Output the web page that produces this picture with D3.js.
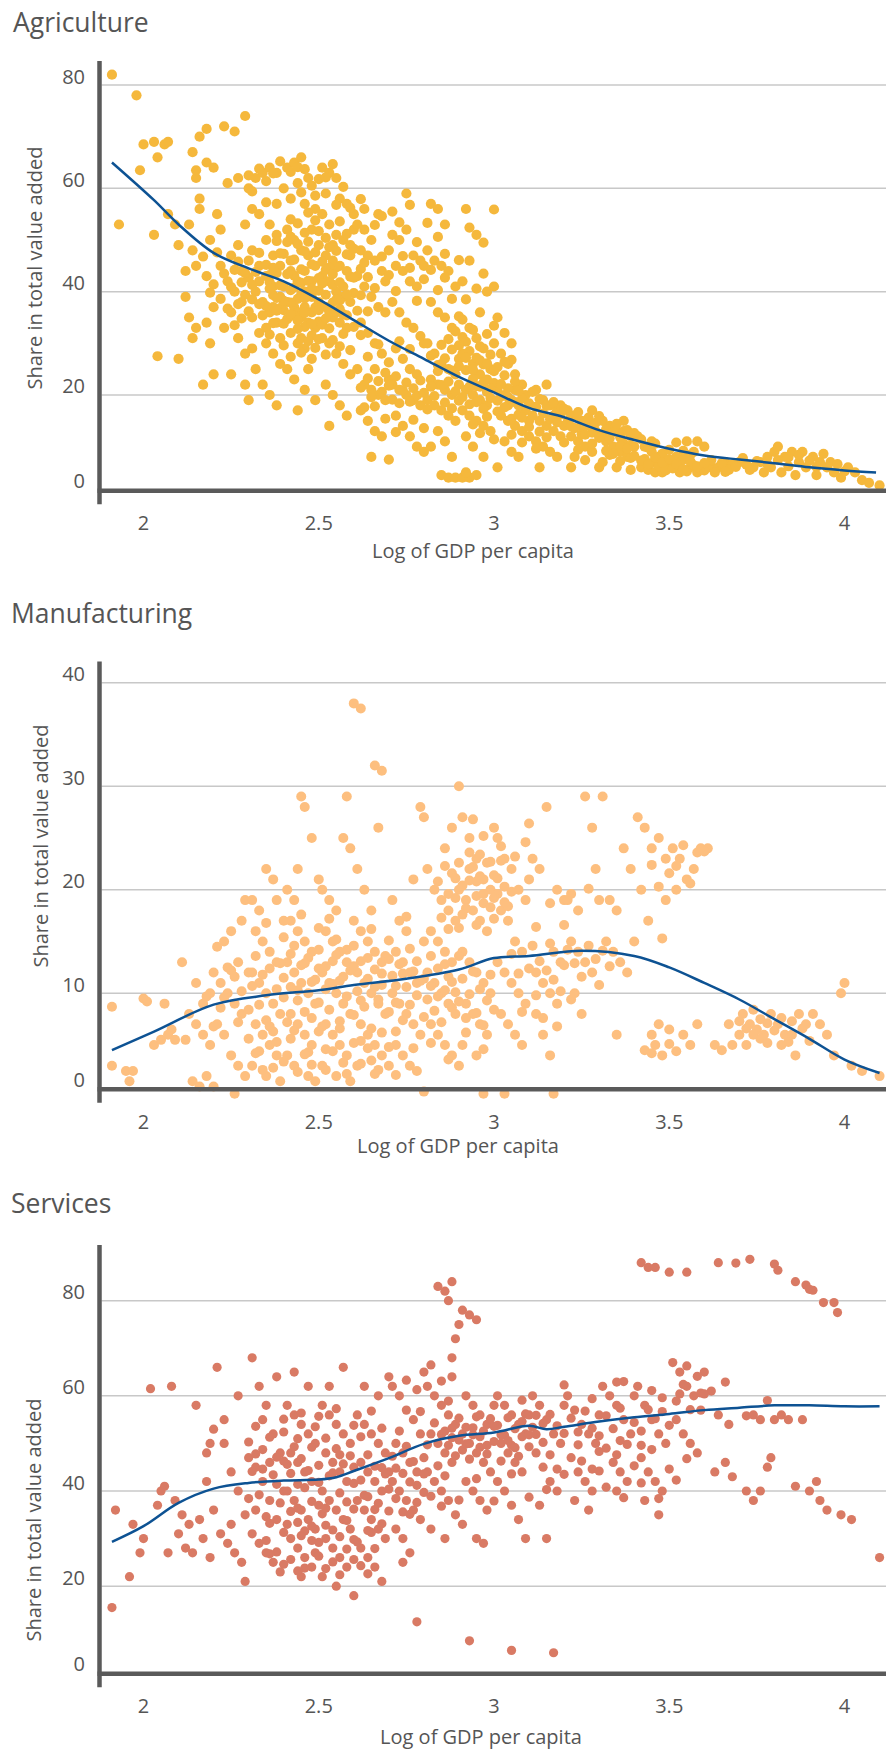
<!DOCTYPE html>
<html><head><meta charset="utf-8">
<script src="https://cdn.jsdelivr.net/npm/d3@7"></script>
<style>
html,body{margin:0;padding:0;background:#fff;}
svg{display:block;font-family:"Open Sans","Noto Sans",sans-serif;}
</style></head>
<body>
<svg id="chart" width="886" height="1751"></svg>
<script>
// ---------- DATA ----------
const xTicks = [2, 2.5, 3, 3.5, 4];
const xLabel = "Log of GDP per capita";
const yLabel = "Share in total value added";
const titles = ["Agriculture", "Manufacturing", "Services"];
const agriTicks = [0, 20, 40, 60, 80];
const manuTicks = [0, 10, 20, 30, 40];
const servTicks = [0, 20, 40, 60, 80];

const agriPoints = [
[1.91,82],[1.98,78],[1.93,53],[1.99,63.5],[2.0,68.5],
[2.03,69],[2.06,68.5],[2.04,66],[2.07,69],[2.03,51],[2.07,55],[2.04,27.5],[2.1,27],[2.1,49],[2.09,53],
[2.14,67],[2.16,70],[2.18,71.5],[2.15,62],[2.15,63.5],[2.18,65],[2.16,58],[2.16,56],[2.13,53],[2.14,48],[2.12,44],[2.15,45],[2.12,39],[2.13,35],[2.15,33],[2.18,34],[2.14,31],[2.19,30],[2.2,37],[2.18,43],[2.21,55],[2.2,24],[2.17,22],[2.19,50],[2.2,64],
[2.23,72],[2.26,71],[2.29,74],[2.24,61],[2.27,62],[2.3,60],[2.22,45],[2.24,42],[2.26,40],[2.28,38],[2.25,36],[2.23,33],[2.27,31],[2.29,28],[2.25,24],[2.29,22],[2.3,19],[2.28,44],[2.3,46],[2.27,49],[2.22,52],[2.29,53],[2.25,47],
[2.32,62],[2.34,63],[2.36,64],[2.38,63],[2.31,56],[2.33,55],[2.36,53],[2.38,51],[2.31,48],[2.33,45],[2.35,43],[2.37,41],[2.39,39],[2.32,40],[2.34,38],[2.36,36],[2.38,34],[2.31,35],[2.33,32],[2.35,30],[2.37,28],[2.39,26],[2.32,25],[2.34,22],[2.36,20],[2.38,18],[2.39,45],[2.37,47],[2.35,50],[2.33,42],[2.31,29],[2.38,57],[2.4,60],[2.35,33],[2.37,37],[2.39,31],
[2.41,64],[2.43,65],[2.45,66],[2.44,61],[2.47,62],[2.42,58],[2.46,57],[2.49,56],[2.41,52],[2.43,50],[2.45,48],[2.47,47],[2.49,45],[2.42,44],[2.44,42],[2.46,40],[2.48,39],[2.41,38],[2.43,37],[2.45,35],[2.47,34],[2.49,33],[2.42,32],[2.44,30],[2.46,29],[2.48,27],[2.41,25],[2.43,23],[2.46,21],[2.49,19],[2.44,17],[2.42,46],[2.46,44],[2.48,42],[2.44,36],[2.46,37],[2.48,36],[2.5,38],[2.5,49],[2.4,41],[2.42,54],[2.48,52],[2.45,31],[2.47,25],
[2.51,64],[2.53,63],[2.55,62],[2.52,59],[2.56,58],[2.58,57],[2.51,55],[2.53,53],[2.55,51],[2.57,50],[2.59,49],[2.52,47],[2.54,46],[2.56,45],[2.58,44],[2.51,43],[2.53,42],[2.55,40],[2.57,39],[2.59,38],[2.52,37],[2.54,35],[2.56,34],[2.58,33],[2.51,31],[2.53,30],[2.55,28],[2.57,26],[2.59,24],[2.52,22],[2.54,20],[2.56,18],[2.58,16],[2.53,14],[2.55,36],[2.57,41],[2.59,47],[2.6,52],[2.6,55],[2.54,49],
[2.61,53],[2.63,52],[2.65,50],[2.62,48],[2.64,47],[2.66,46],[2.68,44],[2.61,43],[2.63,41],[2.65,39],[2.67,37],[2.69,36],[2.62,34],[2.64,32],[2.66,30],[2.68,28],[2.61,25],[2.63,22],[2.65,21],[2.67,20],[2.69,19],[2.62,17],[2.64,15],[2.66,13],[2.68,12],[2.65,8],[2.7,7.5],[2.63,56],[2.67,55],[2.7,48],[2.69,42],[2.66,25],[2.7,23],
[2.71,51],[2.73,50],[2.75,52],[2.77,47],[2.72,45],[2.74,44],[2.76,42],[2.78,41],[2.71,38],[2.73,36],[2.75,34],[2.77,33],[2.72,29],[2.74,27],[2.76,25],[2.78,24],[2.71,22],[2.73,21],[2.75,20],[2.77,19],[2.79,18],[2.72,16],[2.74,14],[2.76,12],[2.78,10],[2.8,9],[2.75,59],[2.79,46],[2.8,45],[2.8,30],
[2.82,57],[2.84,56],[2.86,53],[2.81,48],[2.83,46],[2.85,45],[2.87,44],[2.89,41],[2.82,38],[2.84,36],[2.86,35],[2.88,33],[2.81,30],[2.83,28],[2.85,26],[2.87,25],[2.89,24],[2.82,23],[2.84,22],[2.86,21],[2.88,20],[2.81,19],[2.83,18],[2.85,17],[2.87,16],[2.89,15],[2.84,13],[2.86,11],[2.88,8],[2.85,4.5],[2.87,4],[2.89,4],[2.82,10],[2.9,27],[2.9,22],
[2.92,56],[2.95,51],[2.93,46],[2.91,42],[2.96,36],[2.93,33],[2.95,31],[2.97,29],[2.91,28],[2.94,26],[2.96,24],[2.98,23],[2.92,21],[2.94,20],[2.96,19],[2.98,18],[2.91,17],[2.93,16],[2.95,15],[2.97,14],[2.99,13],[2.92,12],[2.94,10],[2.97,8],[2.91,4],[2.93,4],[2.95,4.5],[2.92,5],[3.0,30],[2.99,25],[2.98,40],
[3.0,41],[3.01,35],[3.03,32],[3.05,30],[3.02,28],[3.04,26],[3.06,24],[3.08,22],[3.01,21],[3.03,20],[3.05,19],[3.07,18],[3.09,17],[3.02,16],[3.04,15],[3.06,14],[3.08,13],[3.1,12],[3.03,11],[3.05,9],[3.07,8],[3.01,6],[3.04,18],[3.06,21],[3.09,20],[3.1,15],
[3.12,21],[3.14,19],[3.16,18],[3.18,17],[3.11,16],[3.13,15],[3.15,14],[3.17,13],[3.19,12],[3.12,11],[3.14,10],[3.16,9],[3.18,8],[3.13,6],[3.2,14],[3.15,22],[3.17,16],[3.19,18],
[3.21,17],[3.23,16],[3.25,15],[3.27,14],[3.29,13],[3.22,12],[3.24,11],[3.26,10],[3.28,9],[3.23,8],[3.25,14],[3.3,6],[3.28,17],[3.22,6],
[3.31,15],[3.33,14],[3.35,13],[3.37,13],[3.39,12],[3.32,11],[3.34,10],[3.36,9],[3.38,8],[3.31,7],[3.35,6],[3.39,5.5],[3.37,15],[3.4,10],
[3.41,12],[3.43,10],[3.45,9],[3.47,8],[3.49,7],[3.42,6],[3.44,5.5],[3.46,5],[3.48,5],[3.5,6],[3.45,11],
[3.52,8],[3.54,7.5],[3.56,6],[3.58,5],[3.53,5],[3.55,11],[3.58,11],[3.6,10],[3.57,9],
[3.62,6],[3.64,6],[3.66,7],[3.68,6.5],[3.7,7],[3.63,5],[3.67,5.5],
[3.72,6.5],[3.74,6],[3.76,7],[3.78,8],[3.8,9],[3.73,5.5],[3.77,5],[3.79,6],
[3.81,10],[3.83,8],[3.85,9],[3.87,7],[3.89,6],[3.82,5],[3.86,4.5],[3.88,9],
[3.91,8],[3.93,7],[3.95,6],[3.97,5],[3.99,4],[3.92,4.5],[3.96,7],
[4.01,6],[4.03,5],[4.05,3.5],[4.07,3],[4.1,2.5],
[2.33,47.5],[2.35,45.2],[2.36,41.8],[2.38,43.6],[2.4,36.4],[2.41,34.7],[2.42,40.3],[2.43,43.1],[2.44,38.6],[2.45,41.7],[2.46,33.2],[2.47,39.8],[2.48,31.5],[2.49,36.9],[2.5,34.2],[2.5,42.6],[2.51,45.8],[2.52,39.4],[2.53,36.1],[2.54,41.3],[2.55,44.7],[2.56,38.3],[2.57,35.6],[2.58,47.2],[2.59,42.9],[2.6,39.7],[2.61,36.3],[2.62,44.4],[2.38,49.8],[2.4,47.3],[2.42,50.6],[2.44,53.2],[2.46,51.4],[2.47,55.3],[2.49,53.8],[2.5,51.7],[2.52,50.4],[2.53,48.6],[2.55,47.9],[2.56,53.6],[2.58,51.2],[2.6,48.3],[2.34,35.4],[2.36,31.7],[2.37,33.9],[2.39,36.8],[2.4,29.6],[2.42,27.4],[2.43,35.3],[2.44,32.8],[2.45,28.2],[2.46,35.9],[2.47,30.4],[2.48,33.7],[2.49,29.1],[2.5,30.8],[2.51,33.6],[2.52,27.8],[2.53,32.9],[2.54,30.6],[2.56,29.4],[2.57,31.8],[2.59,28.7],[2.45,39.5],[2.47,42.1],[2.43,40.8],[2.41,43.4],[2.39,41.2],[2.37,39.3],[2.5,40.2],[2.51,37.2],[2.53,44.6],[2.55,38.4],[2.48,45.3],[2.46,47.8],[2.44,49.2],[2.42,37.9],[2.4,38.2],[2.38,38.8],[2.36,40.6],[2.35,37.2],
[2.3,62.5],[2.33,63.8],[2.35,61.4],[2.37,62.9],[2.39,65.2],[2.42,63.2],[2.44,64.1],[2.46,63.7],[2.48,60.5],[2.5,61.8],[2.52,62.1],[2.54,64.7],[2.57,60.3],[2.59,56.2],[2.31,59.4],[2.35,57.3],[2.45,59.2],[2.49,58.6],[2.55,56.8],[2.62,57.9],[2.66,52.9],[2.68,54.6],[2.71,55.5],[2.73,53.4],[2.76,56.8],[2.78,49.6],[2.81,53.3],[2.84,50.6],[2.86,47.3],[2.9,46.1],[2.93,52.4],[2.97,49.5],[3.0,55.9],
[2.62,21.4],[2.64,23.2],[2.65,19.6],[2.66,17.8],[2.67,22.7],[2.68,20.6],[2.69,24.3],[2.7,21.8],[2.71,19.1],[2.72,23.6],[2.73,18.4],[2.74,20.9],[2.75,22.4],[2.76,18.7],[2.77,21.3],[2.78,19.9],[2.79,22.8],[2.8,20.4],[2.81,17.2],[2.82,21.6],[2.83,19.8],[2.84,24.6],[2.85,21.9],[2.86,18.5],[2.87,22.6],[2.88,17.4],[2.89,20.7],[2.9,18.9],[2.63,17.6],[2.69,15.4],[2.72,12.8],[2.77,15.2],[2.8,13.6],[2.64,27.4],[2.67,29.8],[2.7,26.3],[2.73,30.4],[2.76,28.9],[2.79,31.4],[2.82,27.6],[2.85,29.7],[2.88,28.8],
[2.9,25.6],[2.91,31.2],[2.92,24.8],[2.93,28.5],[2.94,23.1],[2.95,27.2],[2.96,21.6],[2.97,25.9],[2.98,20.6],[2.99,27.8],[3.0,22.3],[3.01,25.4],[3.02,19.7],[3.03,23.8],[3.04,21.3],[3.05,26.8],[3.06,18.6],[2.91,19.6],[2.93,18.2],[2.95,21.7],[2.97,17.3],[2.99,19.4],[3.01,16.8],[3.03,17.6],[3.05,15.4],[3.07,16.2],[2.92,30.3],[2.94,32.6],[2.96,29.4],[2.98,31.8],[3.0,33.4],[2.94,14.3],[2.96,12.6],[2.98,15.8],[3.0,11.4],[2.9,35.2],[2.92,38.5],[2.95,40.6],[2.97,43.5],
[3.08,19.3],[3.1,18.4],[3.11,20.6],[3.12,17.7],[3.13,19.2],[3.14,16.4],[3.15,17.9],[3.16,15.3],[3.17,18.6],[3.18,14.7],[3.19,16.2],[3.2,17.3],[3.21,14.8],[3.22,15.9],[3.23,13.6],[3.24,16.7],[3.25,12.4],[3.26,14.2],[3.27,15.6],[3.28,12.7],[3.29,14.6],[3.3,15.9],[3.31,12.4],[3.32,13.4],[3.33,11.6],[3.34,12.8],[3.35,14.4],[3.36,11.8],[3.37,10.6],[3.38,13.2],[3.39,10.2],[3.4,12.6],[3.42,11.4],[3.44,9.8],[3.46,10.6],[3.48,8.6],[3.5,9.4],[3.52,10.8],[3.54,9.2],[3.56,8.4],[3.43,7.6],[3.45,6.8],[3.47,6.2],[3.49,5.4],[3.51,5.8],[3.53,6.7],[3.55,5.2],[3.57,6.4],[3.59,5.6],[3.33,8.4],[3.36,7.2],[3.39,7.8],[3.26,7.4],[3.12,9.6],[3.08,10.8],[3.05,12.3],
[3.62,7.4],[3.65,6.8],[3.69,6.1],[3.71,7.8],[3.75,7.2],[3.78,6.6],[3.81,7.4],[3.84,7.9],[3.84,6.2],[3.87,8.4],[3.9,7.3],[3.92,6.1],[3.94,8.6],[3.98,6.6],[4.0,5.2],[3.66,5.1],[3.6,5.4],
[2.2,41.4],[2.22,38.6],[2.23,43.5],[2.24,36.7],[2.25,40.9],[2.26,44.2],[2.27,37.6],[2.28,41.8],[2.29,39.4],[2.3,42.7],[2.31,38.5],[2.32,43.8],[2.3,36.2],[2.28,34.8],[2.26,33.5],[2.17,46.8],[2.19,39.8],[2.21,47.6],
[2.37,44.6],[2.39,47.4],[2.41,49.6],[2.43,46.2],[2.45,44.3],[2.47,49.7],[2.49,47.6],[2.51,41.6],[2.52,44.2],[2.54,43.4],[2.56,41.8],[2.58,39.5],[2.6,42.7],[2.62,39.3],[2.63,45.6],[2.64,42.8],[2.66,40.7],[2.68,46.8],[2.7,43.2],[2.72,40.1],[2.74,46.9],[2.76,44.6],[2.78,38.2],[2.8,42.4],[2.82,44.2],[2.84,40.3],[2.86,42.7],[2.88,38.6],[2.36,43.2],[2.38,36.3],[2.4,33.8],[2.42,35.6],[2.44,34.4],[2.46,38.7],[2.48,40.6],[2.5,36.4],[2.52,34.8],[2.54,37.9],[2.56,36.6],[2.58,35.4],[2.6,33.2],[2.62,31.6],[2.64,36.2],[2.33,37.6],[2.31,41.3],[2.29,43.6],[2.27,45.8],
[2.93,21.6],[2.94,24.9],[2.95,18.6],[2.96,26.7],[2.97,22.4],[2.98,26.1],[2.99,21.2],[3.0,24.6],[3.01,18.9],[3.02,22.1],[3.03,26.4],[3.04,19.6],[3.06,22.6],[3.07,20.8],[2.92,27.2],[2.9,29.6],[2.88,24.7],[2.86,27.1],[2.84,25.8],[2.87,30.8],[2.89,32.3],[2.91,34.6],
[3.2,10.8],[3.22,13.9],[3.24,9.4],[3.26,12.3],[3.28,10.6],[3.3,11.7],[3.32,9.2],[3.34,8.6],[3.36,10.2],[3.38,9.6],[3.4,8.2],[3.42,7.3],[3.44,6.6],[3.46,7.9],[3.48,6.9],[3.5,7.6],[3.52,6.6],[3.54,5.6],[3.56,7.2],[3.58,6.2],[3.6,6.8],[3.15,11.8],[3.1,13.8],[3.08,15.6],[3.13,12.9]
];
const agriTrend = [[1.91,65],[2.03,57.7],[2.1,53],[2.2,47.5],[2.3,44.5],[2.4,42],[2.5,38.5],[2.6,34.5],[2.7,30.5],[2.8,27],[2.9,23.5],[3.0,20.5],[3.1,17.5],[3.2,15.7],[3.3,13.2],[3.4,11.3],[3.5,9.6],[3.6,8.3],[3.7,7.5],[3.8,6.8],[3.9,6.0],[4.0,5.4],[4.09,5.0]];

const manuPoints = [
[1.91,8.7],[1.91,3],[1.95,2.5],[1.96,1.5],[1.97,2.5],
[2.0,9.5],[2.01,9.2],[2.03,5],[2.05,5.5],[2.07,6],[2.09,5.5],[2.06,9],[2.08,6.5],
[2.11,13],[2.13,8],[2.15,7],[2.17,6],[2.19,5],[2.12,5.5],[2.14,1.5],[2.16,1],[2.18,2],[2.2,1],[2.17,9],[2.19,10],[2.15,11],[2.2,12],
[2.21,14.5],[2.23,15],[2.25,16],[2.27,13],[2.29,19],[2.22,11],[2.24,10],[2.26,9],[2.28,8],[2.21,7],[2.23,6],[2.25,4],[2.27,3],[2.29,2],[2.26,0.3],[2.3,12],[2.28,17],[2.24,12.5],
[2.31,19],[2.33,18],[2.35,22],[2.37,21],[2.32,16],[2.34,15],[2.36,14],[2.38,13],[2.31,12],[2.33,11],[2.35,10],[2.37,9],[2.39,8],[2.32,7],[2.34,6],[2.36,5],[2.38,4],[2.31,3],[2.35,2],[2.39,1.5],[2.4,17],[2.38,19],
[2.41,20],[2.43,19],[2.45,29],[2.46,28],[2.48,25],[2.42,17],[2.44,16],[2.46,15],[2.48,14],[2.41,13],[2.43,12],[2.45,11],[2.47,10],[2.49,9],[2.42,8],[2.44,7],[2.46,6],[2.48,5],[2.41,4],[2.43,3],[2.47,2],[2.49,1.5],[2.5,21],[2.44,22],
[2.51,20],[2.53,19],[2.55,18],[2.57,25],[2.59,24],[2.58,29],[2.52,16],[2.54,15],[2.56,14],[2.58,13],[2.51,12],[2.53,11],[2.55,10],[2.57,9],[2.59,8],[2.52,7],[2.54,6],[2.56,5],[2.58,4],[2.51,3],[2.55,2],[2.59,1.5],[2.6,17],[2.6,38],[2.62,37.5],
[2.61,22],[2.63,20],[2.65,18],[2.67,26],[2.66,32],[2.68,31.5],[2.62,16],[2.64,15],[2.66,14],[2.68,13],[2.61,12],[2.63,11],[2.65,10],[2.67,9],[2.69,8],[2.62,7],[2.64,6],[2.66,5],[2.68,4],[2.61,3],[2.65,3.5],[2.7,3],
[2.71,19],[2.73,17],[2.75,16],[2.77,21],[2.79,28],[2.72,14],[2.74,13],[2.76,12],[2.78,11],[2.71,10],[2.73,9],[2.75,8],[2.77,7],[2.79,6],[2.72,5],[2.74,4],[2.76,3],[2.78,2.5],[2.8,0.5],[2.8,15],[2.8,27],
[2.81,22],[2.83,20],[2.85,19],[2.87,18],[2.89,17],[2.82,16],[2.84,15],[2.86,14],[2.88,13],[2.81,12],[2.83,11],[2.85,10],[2.87,9],[2.89,8],[2.82,7],[2.84,6],[2.86,5],[2.88,4],[2.9,3],[2.86,24],[2.9,30],[2.88,26],[2.9,20],
[2.91,27],[2.93,25],[2.95,23],[2.97,21],[2.99,20],[2.92,19],[2.94,18],[2.96,17],[2.98,16],[2.91,14],[2.93,13],[2.95,12],[2.97,11],[2.99,10],[2.92,9],[2.94,8],[2.96,7],[2.98,6],[2.91,5],[2.95,4],[2.97,0.3],[2.93,22],[3.0,26],
[3.01,25],[3.03,23],[3.05,22],[3.07,20],[3.09,19],[3.02,18],[3.04,17],[3.06,15],[3.08,14],[3.01,13],[3.03,12],[3.05,11],[3.07,10],[3.09,9],[3.02,8],[3.04,7],[3.06,6],[3.08,5],[3.03,0.3],[3.1,21],
[3.11,23],[3.13,22],[3.15,28],[3.17,14],[3.19,13],[3.12,12],[3.14,11],[3.16,10],[3.18,9],[3.12,8],[3.14,6],[3.16,4],[3.17,0.3],[3.2,19],[3.18,20],
[3.21,19],[3.24,18],[3.26,29],[3.28,26],[3.22,15],[3.24,14],[3.26,13],[3.28,12],[3.23,10],[3.25,8],[3.3,19],[3.29,22],
[3.31,29],[3.33,19],[3.35,18],[3.37,24],[3.39,22],[3.32,15],[3.34,14],[3.36,13],[3.38,12],[3.35,6],[3.4,15],
[3.41,27],[3.43,26],[3.45,24],[3.47,25],[3.49,23],[3.42,20],[3.44,17],[3.46,5],[3.48,4],[3.43,4.5],[3.45,6],[3.47,7],[3.5,6.5],[3.49,19],
[3.51,24],[3.53,23],[3.55,21],[3.57,22],[3.59,24],[3.52,20],[3.54,6],[3.56,5],[3.58,7],
[3.61,24],[3.63,5],[3.65,4.5],[3.67,7],[3.7,6],[3.68,5],
[3.71,8],[3.73,7],[3.75,6.5],[3.77,6],[3.79,8],[3.72,5],[3.76,7.5],[3.74,6],
[3.81,7],[3.83,6],[3.85,6],[3.87,8],[3.89,7],[3.82,5],[3.86,4],
[3.91,8],[3.93,7],[3.95,6],[3.97,4],[3.99,10],[4.0,11],
[4.02,3],[4.05,2.5],[4.1,2],
[2.3,8.4],[2.31,10.7],[2.32,13.6],[2.33,8.9],[2.34,11.8],[2.35,7.4],[2.36,12.4],[2.37,6.3],[2.38,10.4],[2.39,12.9],[2.4,9.6],[2.41,7.2],[2.42,10.6],[2.43,14.6],[2.44,9.3],[2.45,12.7],[2.46,8.2],[2.47,13.4],[2.48,7.6],[2.49,11.3],[2.5,14.2],[2.5,9.1],[2.51,6.8],[2.52,12.6],[2.53,8.4],[2.54,10.9],[2.55,13.7],[2.56,7.3],[2.57,11.6],[2.58,9.7],[2.59,12.2],[2.6,7.9],[2.61,10.2],[2.62,13.1],[2.63,8.7],[2.64,11.4],[2.65,6.6],[2.66,12.3],[2.67,9.4],[2.68,10.8],[2.69,13.6],[2.7,8.2],[2.71,11.7],[2.72,9.1],[2.73,12.8],[2.74,7.4],[2.75,10.6],[2.76,8.9],[2.77,12.1],[2.78,9.8],[2.79,11.2],[2.8,7.7],[2.81,9.4],[2.82,10.7],[2.83,8.3],[2.84,12.4],[2.85,7.2],[2.86,10.3],[2.87,11.6],[2.88,8.6],[2.89,10.1],[2.9,9.2],[2.91,11.4],[2.92,7.6],[2.93,9.9],[2.94,12.1],[2.95,8.1],[2.96,10.4],[2.97,6.9],[2.98,9.3],[2.99,11.8],[3.0,8.4],
[2.35,16.8],[2.4,15.4],[2.45,17.6],[2.5,16.3],[2.55,15.2],[2.6,14.6],[2.65,16.2],[2.7,15.1],[2.75,17.4],[2.53,17.2],[2.43,6.4],[2.47,4.3],[2.52,4.6],[2.57,3.3],[2.62,5.4],[2.67,2.6],[2.72,6.3],[2.77,4.7],[2.82,5.2],[2.87,3.6],[2.92,6.2],[2.97,4.6],[2.33,4.4],[2.37,2.8],[2.27,7.2],[2.22,8.6],[2.25,12.2],[2.2,6.8],[2.18,9.7],[2.23,9.6],[2.28,10.2],[2.26,11.6],
[2.84,20.8],[2.86,22.3],[2.87,19.6],[2.88,21.6],[2.89,19.2],[2.9,22.6],[2.91,20.4],[2.92,18.2],[2.93,20.9],[2.94,22.2],[2.95,19.4],[2.96,21.3],[2.97,18.7],[2.98,22.6],[2.99,18.3],[3.0,21.4],[3.01,19.6],[3.02,22.8],[3.03,20.3],[3.04,18.4],[3.05,19.8],[2.9,16.3],[2.95,16.6],[3.0,17.2],[2.97,25.2],[3.02,24.2],[2.94,26.8],
[3.05,13.8],[3.07,11.9],[3.08,8.2],[3.1,12.4],[3.11,14.6],[3.12,9.8],[3.13,13.1],[3.14,7.6],[3.15,12.2],[3.16,14.8],[3.17,11.3],[3.18,6.8],[3.19,10.2],[3.2,12.7],[3.21,14.2],[3.22,9.4],[3.23,12.9],[3.25,11.6],[3.27,14.6],[3.29,13.3],[3.31,14.1],[3.33,12.6],[3.3,10.8],[3.12,16.4],[3.16,18.7],[3.2,16.6],[3.09,24.6],[3.1,26.4],[3.06,23.2],[3.22,19.6],[3.27,20.1],
[3.45,22.4],[3.47,20.3],[3.5,21.6],[3.52,22.3],[3.54,24.3],[3.58,23.6],[3.6,23.7],[3.56,20.6],[3.48,15.3],[3.45,4.2],[3.5,5.1],[3.52,4.4],
[3.7,7.3],[3.72,6.6],[3.74,8.4],[3.76,5.6],[3.78,7.1],[3.8,6.4],[3.82,7.6],[3.84,5.3],[3.85,7.3],[3.88,6.6],[3.9,5.4],[3.78,5.2],
[2.3,5.6],[2.32,4.2],[2.34,2.6],[2.36,6.8],[2.38,5.3],[2.4,3.4],[2.42,5.6],[2.44,2.4],[2.46,4.1],[2.48,3.1],[2.5,6.3],[2.52,2.6],[2.54,4.4],[2.56,6.6],[2.58,2.2],[2.6,5.2],[2.62,3.2],[2.64,4.7],[2.66,2.2],[2.68,6.2],[2.7,4.8],[2.72,2.1],
[2.4,11.5],[2.42,13.8],[2.44,10.3],[2.46,12.9],[2.48,11.1],[2.5,12.4],[2.52,10.4],[2.54,13.1],[2.56,11.2],[2.58,14.2],[2.6,12.6],[2.62,9.3],[2.64,13.4],[2.66,10.6],[2.68,11.9],[2.7,13.3],[2.72,10.7],[2.74,11.9],[2.76,14.3],[2.78,13.1],[2.8,11.4],[2.82,13.6],[2.84,9.7],[2.86,12.8],[2.88,11.1],[2.9,13.6],
[2.85,17.3],[2.87,16.2],[2.89,21.1],[2.91,17.6],[2.93,23.6],[2.95,20.8],[2.97,19.6],[2.99,22.7],[3.01,21.1],[3.03,18.8],[3.0,19.2],[2.96,23.4]
];
const manuTrend = [[1.91,4.5],[2.03,6.3],[2.2,8.9],[2.35,9.8],[2.5,10.3],[2.6,10.8],[2.75,11.4],[2.9,12.3],[3.0,13.4],[3.1,13.6],[3.25,14.1],[3.4,13.6],[3.5,12.5],[3.6,11.0],[3.7,9.4],[3.8,7.5],[3.9,5.6],[4.0,3.6],[4.1,2.3]];

const servPoints = [
[1.91,15.5],[1.92,36],[1.96,22],[1.97,33],[1.99,27],[2.0,30],[2.02,61.5],[2.04,37],[2.05,40],[2.06,41],[2.08,62],[2.1,31],[2.07,27],[2.09,38],
[2.11,35],[2.13,33],[2.15,58],[2.16,34],[2.17,30],[2.18,48],[2.19,50],[2.2,36],[2.12,28],[2.14,27],[2.18,42],[2.2,53],[2.19,26],
[2.21,66],[2.23,55],[2.25,44],[2.27,40],[2.29,35],[2.22,31],[2.24,29],[2.26,27],[2.28,25],[2.23,50],[2.27,60],[2.29,21],[2.25,33],[2.3,47],
[2.31,68],[2.33,62],[2.35,58],[2.37,52],[2.39,48],[2.32,45],[2.34,42],[2.36,38],[2.38,34],[2.31,31],[2.33,29],[2.35,27],[2.37,25],[2.39,23],[2.34,55],[2.38,64],[2.36,46],[2.32,36],[2.4,40],
[2.41,58],[2.43,56],[2.45,54],[2.47,52],[2.49,50],[2.42,48],[2.44,46],[2.46,44],[2.48,42],[2.41,40],[2.43,38],[2.45,36],[2.47,34],[2.49,32],[2.42,30],[2.44,28],[2.46,26],[2.48,24],[2.45,22],[2.43,65],[2.47,62],[2.5,37],[2.41,33],[2.49,27],[2.44,51],
[2.51,58],[2.53,56],[2.55,54],[2.57,52],[2.59,50],[2.52,48],[2.54,46],[2.56,44],[2.58,42],[2.51,40],[2.53,38],[2.55,36],[2.57,34],[2.59,32],[2.52,30],[2.54,28],[2.56,26],[2.58,24],[2.51,22],[2.55,20],[2.6,18],[2.57,66],[2.53,62],[2.6,45],
[2.61,56],[2.63,54],[2.65,52],[2.67,50],[2.69,48],[2.62,46],[2.64,44],[2.66,42],[2.68,40],[2.61,38],[2.63,36],[2.65,34],[2.67,32],[2.69,30],[2.62,28],[2.64,26],[2.66,24],[2.63,62],[2.67,60],[2.7,64],[2.68,21],[2.7,44],
[2.71,62],[2.73,60],[2.75,57],[2.77,55],[2.79,52],[2.72,50],[2.74,48],[2.76,46],[2.78,44],[2.71,42],[2.73,40],[2.75,38],[2.77,36],[2.79,34],[2.72,32],[2.74,30],[2.76,27],[2.78,12.5],[2.8,65],[2.74,25],[2.8,47],
[2.81,62],[2.83,60],[2.85,58],[2.87,56],[2.89,54],[2.82,52],[2.84,50],[2.86,48],[2.88,46],[2.81,44],[2.83,42],[2.85,40],[2.87,38],[2.89,35],[2.82,32],[2.86,30],[2.84,83],[2.86,82],[2.88,84],[2.87,80],[2.89,72],[2.88,68],[2.9,75],[2.88,64],
[2.91,78],[2.93,77],[2.95,76],[2.92,60],[2.94,58],[2.96,56],[2.98,54],[2.91,52],[2.93,50],[2.95,48],[2.97,46],[2.99,44],[2.92,42],[2.94,40],[2.96,38],[2.98,36],[2.91,33],[2.95,30],[2.93,8.5],[2.97,29],[3.0,58],
[3.01,60],[3.03,58],[3.05,56],[3.07,54],[3.09,52],[3.02,50],[3.04,48],[3.06,46],[3.08,44],[3.01,42],[3.03,40],[3.05,37],[3.07,34],[3.09,30],[3.05,6.5],[3.1,56],
[3.11,60],[3.13,58],[3.15,55],[3.17,52],[3.19,50],[3.12,48],[3.14,45],[3.16,42],[3.18,40],[3.13,37],[3.17,6],[3.2,58],[3.15,30],
[3.21,60],[3.23,57],[3.25,54],[3.27,52],[3.29,50],[3.22,47],[3.24,44],[3.26,42],[3.28,40],[3.23,38],[3.27,36],[3.3,56],
[3.31,62],[3.33,60],[3.35,58],[3.37,55],[3.39,52],[3.32,49],[3.34,46],[3.36,44],[3.38,42],[3.35,40],[3.4,60],[3.37,63],
[3.41,62],[3.43,58],[3.45,55],[3.47,52],[3.49,50],[3.42,47],[3.44,44],[3.46,42],[3.48,40],[3.43,38],[3.47,35],[3.42,88],[3.44,87],[3.46,87],[3.5,86],
[3.51,67],[3.53,65],[3.55,62],[3.57,60],[3.59,57],[3.52,55],[3.54,52],[3.56,50],[3.58,48],[3.55,86],[3.6,65],
[3.59,60.6],[3.64,88],[3.66,62.9],[3.62,61],[3.64,56],[3.66,46],[3.68,43],[3.63,44],[3.67,54],[3.69,87.9],
[3.73,88.7],[3.72,55.8],[3.74,56],[3.76,55],[3.78,45],[3.72,40],[3.74,38],[3.76,40],[3.79,47],[3.78,59],[3.8,55],
[3.8,87.7],[3.81,86.4],[3.82,56],[3.84,55],[3.86,41],[3.88,55],[3.86,84],[3.89,83.3],[3.9,82.4],[3.91,82.2],
[3.9,40],[3.92,42],[3.93,38],[3.95,36],[3.94,79.6],[3.97,79.6],[3.98,77.5],[3.99,35],
[4.02,34],[4.1,26],
[2.3,50.3],[2.31,44.1],[2.32,53.6],[2.33,39.2],[2.34,48.7],[2.35,34.6],[2.36,51.3],[2.37,43.4],[2.38,47.1],[2.39,37.5],[2.4,52.4],[2.41,45.6],[2.42,35.7],[2.43,49.3],[2.44,41.4],[2.45,46.8],[2.46,31.6],[2.47,44.3],[2.48,37.8],[2.49,53.5],[2.5,45.4],[2.51,35.2],[2.52,51.1],[2.53,43.2],[2.54,31.8],[2.55,48.9],[2.56,39.6],[2.57,45.7],[2.58,33.8],[2.59,47.4],[2.6,41.6],[2.61,29.3],[2.62,51.4],[2.63,39.1],[2.64,47.6],[2.65,31.3],[2.66,45.2],[2.67,37.4],[2.68,53.2],[2.69,43.6],[2.7,35.8],
[2.35,29.6],[2.38,27.2],[2.4,31.3],[2.42,25.6],[2.44,33.4],[2.46,23.8],[2.48,29.6],[2.5,26.3],[2.52,23.7],[2.54,25.1],[2.56,22.4],[2.58,27.8],[2.6,29.8],[2.62,24.3],[2.64,31.7],[2.66,27.9],[2.68,33.1],[2.45,56.4],[2.5,55.7],[2.55,57.3],[2.6,53.8],[2.65,56.8],[2.4,55.1],
[2.71,47.3],[2.72,38.4],[2.73,52.6],[2.74,43.7],[2.75,49.4],[2.76,35.1],[2.77,46.2],[2.78,41.2],[2.79,56.7],[2.8,43.6],[2.81,49.7],[2.82,38.9],[2.83,54.3],[2.84,45.3],[2.85,51.9],[2.86,43.2],[2.87,49.6],[2.88,53.2],[2.89,47.4],[2.9,55.3],[2.91,48.6],[2.92,53.4],[2.93,46.7],[2.94,51.8],[2.95,55.6],[2.96,49.2],[2.97,52.6],[2.98,47.8],[2.99,55.2],[3.0,50.4],[3.01,53.8],[3.02,46.3],[3.03,51.7],[3.04,55.4],[3.05,49.6],[3.06,53.1],[3.07,47.3],[3.08,51.4],[3.09,56.2],[3.1,49.3],[3.11,53.4],[3.12,51.9],[3.14,54.2],[3.16,56.1],[3.18,53.7],[3.2,52.1],[3.22,55.3],[3.24,49.7],[3.26,56.8],[3.28,53.2],[3.3,51.6],[3.32,55.8],[3.34,53.1],[3.36,57.4],[3.38,49.8],[3.4,54.4],[3.42,52.6],[3.44,57.1],[3.46,55.2],[3.48,59.6],[3.5,53.8],[3.52,58.9],[3.54,62.4],[3.56,57.1],[3.58,64.1],[3.6,60.4],
[3.25,46.3],[3.3,44.2],[3.35,47.6],[3.4,45.3],[3.45,48.7],[3.5,44.6],[3.55,46.8],[3.32,40.8],[3.37,38.6],[3.42,41.7],[3.47,38.4],[3.52,42.3],[3.28,44.6],[3.15,40.3],[3.2,43.5],[3.1,38.7],[3.05,43.6],[2.85,36.8],[2.9,38.1],[2.95,42.6],[3.0,37.9],[3.2,62.3],[3.35,62.9],[3.45,61.1],[3.55,66.3],[3.28,59.4],[3.08,59.1],
[2.85,63.1],[2.78,61.3],[2.75,63.3],[2.82,66.5],[2.87,58.9],
[2.3,38.4],[2.32,47.8],[2.34,44.6],[2.36,33.2],[2.38,41.4],[2.4,46.3],[2.42,43.7],[2.44,36.4],[2.46,40.7],[2.48,49.2],[2.5,41.8],[2.52,36.4],[2.54,43.8],[2.56,47.6],[2.58,37.7],[2.6,36.2],[2.62,42.3],[2.64,38.8],[2.66,36.1],[2.68,44.9],[2.7,40.4],[2.72,44.8],[2.74,35.6],[2.76,41.9],[2.78,37.6],[2.8,39.7],
[2.36,26.8],[2.4,24.6],[2.44,23.2],[2.48,32.6],[2.52,32.8],[2.56,30.4],[2.6,25.6],[2.64,22.6],[2.5,29.2],[2.45,30.6],
[2.92,49.9],[2.94,53.3],[2.96,51.4],[2.98,49.6],[3.0,53.6],[3.02,51.8],[3.04,50.6],[3.06,49.1],[3.08,54.6],[3.1,51.8],[2.9,50.7],[2.88,51.2],[2.86,52.6],[3.12,55.9],[3.14,50.2],[3.16,47.6],[3.18,44.6],[3.24,52.4],[3.3,48.3],[3.36,50.6],[3.42,49.6],[3.48,56.7],[3.53,60.4]
];
const servTrend = [[1.91,29.3],[2.0,32.6],[2.1,37.5],[2.2,40.5],[2.3,41.7],[2.4,42.2],[2.5,42.4],[2.55,42.9],[2.6,44.2],[2.7,46.9],[2.8,49.9],[2.9,51.6],[3.0,52.3],[3.1,53.7],[3.15,53],[3.2,53.5],[3.3,54.6],[3.4,55.5],[3.5,56.2],[3.6,57],[3.7,57.5],[3.8,58],[3.9,58],[4.0,57.8],[4.1,57.8]];

// ---------- LAYOUT / STYLE ----------
const W = 886;
const axisColor = "#5a5a5a", gridColor = "#c8c8c8", textColor = "#555555", lineColor = "#0d5293";
const panels = [
  {title: titles[0], pts: agriPoints, trend: agriTrend, ticks: agriTicks, color: "#f5b83c",
   yTop: 85, yBot: 498.3, yMax: 80, axisTop: 61, titleY: 32, titleX: 13, yTitleX: 34, yTitleY: 268, xTitleX: 473, xTitleDy: 60, r: 5.1},
  {title: titles[1], pts: manuPoints, trend: manuTrend, ticks: manuTicks, color: "#fdbf7f",
   yTop: 682.7, yBot: 1096.8, yMax: 40, axisTop: 661.5, titleY: 623, titleX: 11, yTitleX: 40, yTitleY: 846, xTitleX: 458, xTitleDy: 56, r: 5},
  {title: titles[2], pts: servPoints, trend: servTrend, ticks: servTicks, color: "#d97a64",
   yTop: 1300.7, yBot: 1681.3, yMax: 80, axisTop: 1245, titleY: 1213, titleX: 11, yTitleX: 33, yTitleY: 1520, xTitleX: 481, xTitleDy: 63, r: 4.6}
];

const svg = d3.select("#chart");
svg.append("rect").attr("width", W).attr("height", 1751).attr("fill", "#fff");
const x = d3.scaleLinear().domain([2, 4]).range([143.5, 844.5]);
const axisX = 99.5;

panels.forEach(p => {
  const y = d3.scaleLinear().domain([0, p.yMax]).range([p.yBot, p.yTop]);
  const g = svg.append("g");
  const baseY = y(0) - 7.5;

  g.append("text").attr("x", p.titleX).attr("y", p.titleY).attr("fill", textColor)
    .attr("font-size", 26.5).text(p.title);

  g.selectAll(".grid").data(p.ticks.filter(t => t > 0)).enter().append("line")
    .attr("x1", axisX + 2).attr("x2", W).attr("y1", d => y(d)).attr("y2", d => y(d))
    .attr("stroke", gridColor).attr("stroke-width", 1.5);

  g.selectAll(".yl").data(p.ticks).enter().append("text")
    .attr("x", 85).attr("y", d => d === 0 ? baseY - 10 : y(d) - 9)
    .attr("text-anchor", "end").attr("dominant-baseline", "central")
    .attr("fill", textColor).attr("font-size", 20).text(d => d);

  g.selectAll(".pt").data(p.pts).enter().append("circle")
    .attr("cx", d => x(d[0])).attr("cy", d => y(d[1])).attr("r", p.r).attr("fill", p.color);

  g.append("path").datum(p.trend)
    .attr("d", d3.line().x(d => x(d[0])).y(d => y(d[1])).curve(d3.curveCatmullRom))
    .attr("fill", "none").attr("stroke", lineColor).attr("stroke-width", 2.5);

  g.append("line").attr("x1", axisX).attr("x2", axisX).attr("y1", p.axisTop).attr("y2", y(0) + 6)
    .attr("stroke", axisColor).attr("stroke-width", 4.5);
  g.append("line").attr("x1", axisX - 2).attr("x2", W).attr("y1", baseY).attr("y2", baseY)
    .attr("stroke", axisColor).attr("stroke-width", 4.5);

  g.selectAll(".xl").data(xTicks).enter().append("text")
    .attr("x", d => x(d)).attr("y", baseY + 32).attr("text-anchor", "middle")
    .attr("dominant-baseline", "central").attr("fill", textColor).attr("font-size", 20).text(d => d);

  g.append("text").attr("x", p.xTitleX).attr("y", baseY + p.xTitleDy).attr("text-anchor", "middle")
    .attr("dominant-baseline", "central").attr("fill", textColor).attr("font-size", 20).text(xLabel);
  g.append("text").attr("transform", `translate(${p.yTitleX},${p.yTitleY}) rotate(-90)`)
    .attr("text-anchor", "middle").attr("dominant-baseline", "central")
    .attr("fill", textColor).attr("font-size", 20).text(yLabel);
});
</script>
</body></html>
